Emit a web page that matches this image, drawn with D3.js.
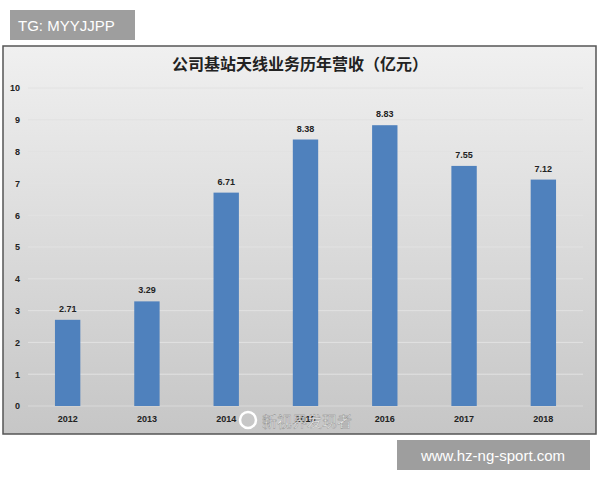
<!DOCTYPE html>
<html><head><meta charset="utf-8">
<script src="https://cdn.jsdelivr.net/npm/d3@7"></script>
<style>body{margin:0;background:#fff;}</style>
</head><body>
<svg id="chart" width="600" height="480"></svg>
<script>
const years = ["2012","2013","2014","2015","2016","2017","2018"];
const revenue = [2.71, 3.29, 6.71, 8.38, 8.83, 7.55, 7.12];
const yTicks = [0,1,2,3,4,5,6,7,8,9,10];

const svg = d3.select("#chart");
const font = "'Liberation Sans', Arial, sans-serif";
const cjk = "'Noto Sans CJK SC', sans-serif";

const defs = svg.append("defs");
const grad = defs.append("linearGradient").attr("id", "bg").attr("x1", 0).attr("y1", 0).attr("x2", 0).attr("y2", 1);
grad.append("stop").attr("offset", "0%").attr("stop-color", "#f0f0f0");
grad.append("stop").attr("offset", "100%").attr("stop-color", "#c6c6c6");

svg.append("rect").attr("x", 3).attr("y", 46).attr("width", 593).attr("height", 388)
    .attr("fill", "url(#bg)").attr("stroke", "#555").attr("stroke-width", 1.5);

svg.append("text").attr("x", 300).attr("y", 70).attr("text-anchor", "middle")
    .attr("font-family", cjk).attr("font-weight", "bold").attr("font-size", 16).attr("fill", "#222")
    .text("公司基站天线业务历年营收（亿元）");

const x = d3.scaleBand().domain(years).range([28, 583]).paddingInner(0.68).paddingOuter(0.34);
const y = d3.scaleLinear().domain([0, 10]).range([406, 88]);

const g = svg.append("g");
g.selectAll("line.grid").data(yTicks).join("line")
    .attr("x1", 28).attr("x2", 583).attr("y1", d => y(d)).attr("y2", d => y(d))
    .attr("stroke", d => d === 0 ? "#d9d9d9" : "#e2e2e2").attr("stroke-width", 1);

const yAxis = svg.append("g").attr("transform", "translate(20,0)")
    .call(d3.axisLeft(y).tickValues(yTicks).tickSize(0).tickPadding(0));
yAxis.select(".domain").remove();
yAxis.selectAll("text").attr("font-family", font).attr("font-weight", "bold").attr("font-size", 9).attr("fill", "#222");

const xAxis = svg.append("g").attr("transform", "translate(0,406)")
    .call(d3.axisBottom(x).tickSize(0).tickPadding(10));
xAxis.select(".domain").remove();
xAxis.selectAll("text").attr("font-family", font).attr("font-weight", "bold").attr("font-size", 9).attr("fill", "#222");

g.selectAll("rect.bar").data(revenue).join("rect")
    .attr("x", (d, i) => x(years[i])).attr("width", x.bandwidth())
    .attr("y", d => y(d)).attr("height", d => y(0) - y(d))
    .attr("fill", "#4f81bd");

g.selectAll("text.lbl").data(revenue).join("text")
    .attr("x", (d, i) => x(years[i]) + x.bandwidth() / 2).attr("y", d => y(d) - 8)
    .attr("text-anchor", "middle").attr("font-family", font).attr("font-weight", "bold")
    .attr("font-size", 9).attr("fill", "#222").text(d => d.toFixed(2));

// watermark
svg.append("text").attr("x", 262).attr("y", 427).attr("font-family", cjk).attr("font-size", 15)
    .attr("fill", "#fff").attr("fill-opacity", 0.85).attr("stroke", "#888").attr("stroke-width", 0.4)
    .text("新视界发现者");
svg.append("circle").attr("cx", 248).attr("cy", 420).attr("r", 8).attr("fill", "none")
    .attr("stroke", "#fff").attr("stroke-width", 2.5);

// overlay tags
svg.append("rect").attr("x", 10).attr("y", 10).attr("width", 125).attr("height", 30).attr("fill", "#9e9e9e");
svg.append("text").attr("x", 18).attr("y", 31).attr("font-family", font).attr("font-size", 15).attr("fill", "#fff").text("TG: MYYJJPP");
svg.append("rect").attr("x", 397).attr("y", 440).attr("width", 193).attr("height", 30).attr("fill", "#9e9e9e");
svg.append("text").attr("x", 493).attr("y", 461).attr("text-anchor", "middle").attr("font-family", font).attr("font-size", 15).attr("fill", "#fff").text("www.hz-ng-sport.com");
</script>
</body></html>
